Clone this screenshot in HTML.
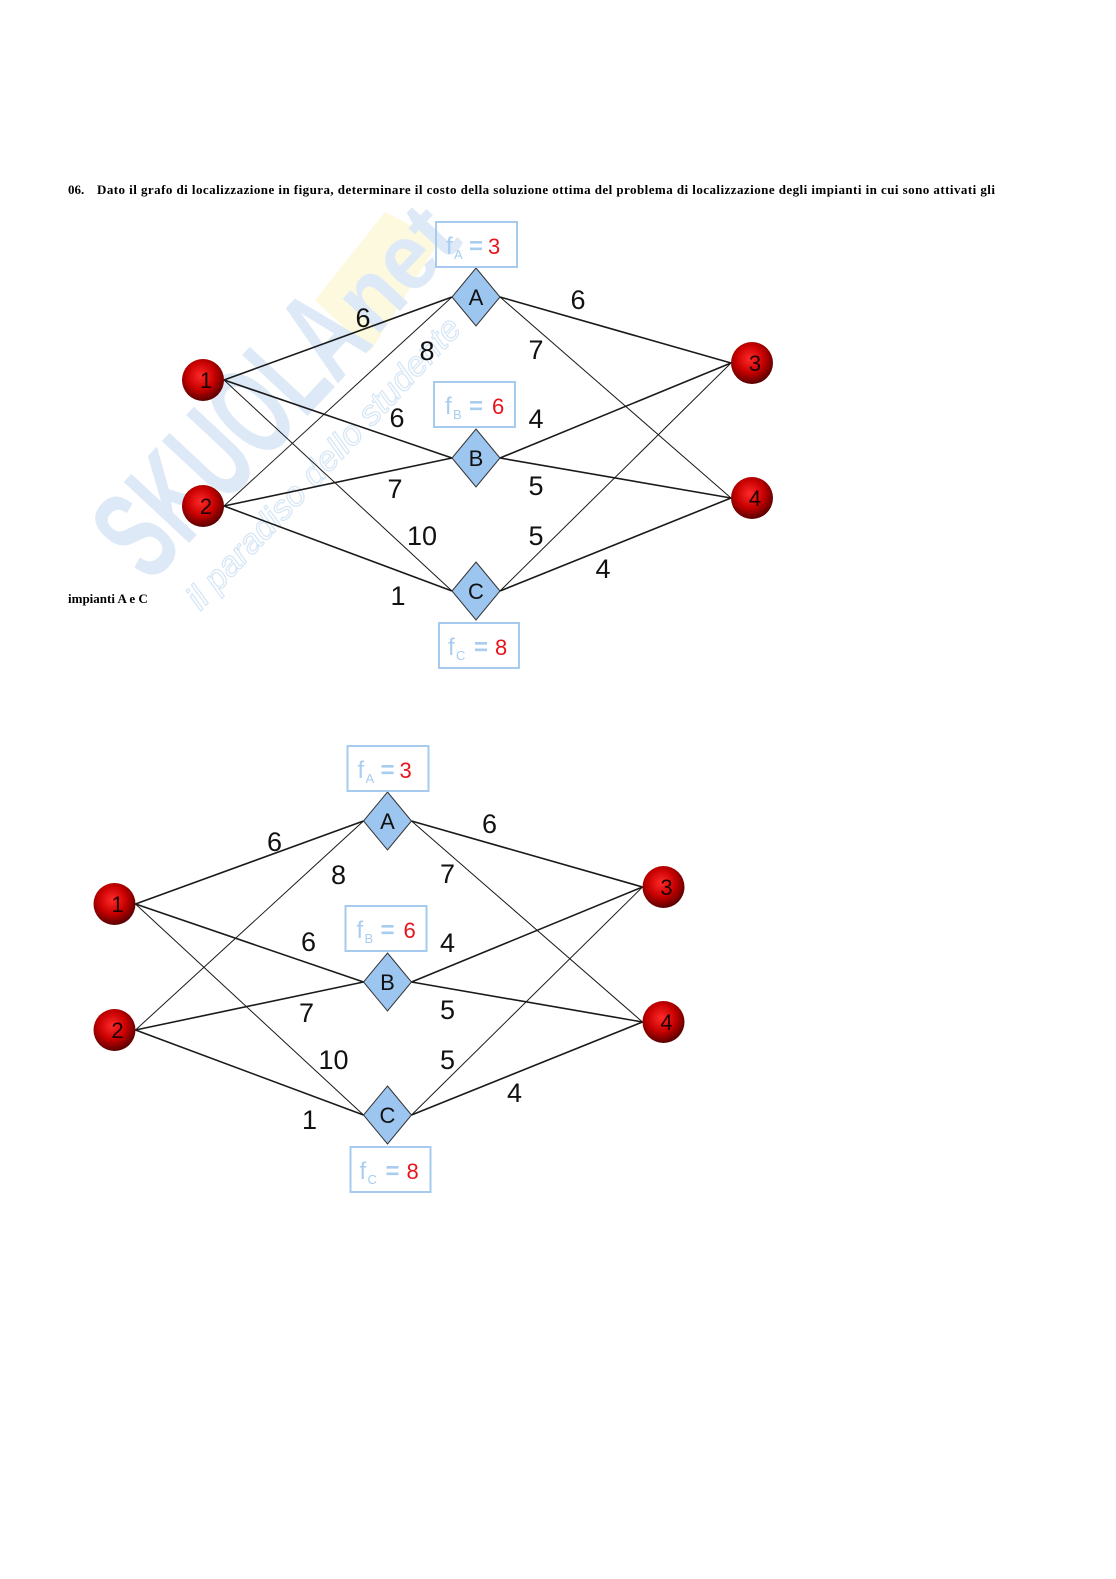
<!DOCTYPE html>
<html><head><meta charset="utf-8">
<style>
html,body{margin:0;padding:0;background:#fff;}
svg{display:block;}
.hd{font-family:"Liberation Serif",serif;font-weight:bold;font-size:13px;fill:#000;}
.lb{font-family:"Liberation Sans",sans-serif;font-size:27px;fill:#111;text-anchor:middle;}
.nd{font-family:"Liberation Sans",sans-serif;font-size:22px;fill:#111;text-anchor:middle;}
.nc{font-family:"Liberation Sans",sans-serif;font-size:22px;fill:#1e0000;text-anchor:middle;}
.fb{font-family:"Liberation Sans",sans-serif;fill:#a9cdf0;}
.fr{font-family:"Liberation Sans",sans-serif;fill:#e8141c;font-size:22px;}
.tk{stroke:#1a1a1a;stroke-width:1.6;fill:none;}
.tn{stroke:#1a1a1a;stroke-width:1;fill:none;}
.dm{fill:#9cc6f0;stroke:#333;stroke-width:1;}
.bx{fill:none;stroke:#a6cbee;stroke-width:2;}
</style></head>
<body>
<svg width="1116" height="1579" viewBox="0 0 1116 1579" xmlns="http://www.w3.org/2000/svg">
<defs>
<radialGradient id="ball" cx="45%" cy="40%" r="60%">
<stop offset="0" stop-color="#ff2a2a"/>
<stop offset="0.55" stop-color="#c80000"/>
<stop offset="1" stop-color="#5a0000"/>
</radialGradient>
</defs>

<!-- watermark -->
<polygon points="315,300 385,212 440,240 370,352" fill="#fcf9de"/>
<g transform="translate(150,585) rotate(-47)">
<text x="0" y="0" font-family="Liberation Sans,sans-serif" font-weight="bold" font-size="130" fill="#dde9f6" textLength="330" lengthAdjust="spacingAndGlyphs">SKUOLA</text>
<text x="335" y="-4" font-family="Liberation Sans,sans-serif" font-weight="bold" font-size="95" fill="#dde9f6" textLength="130" lengthAdjust="spacingAndGlyphs">net</text>
<text x="15" y="55" font-family="Liberation Sans,sans-serif" font-style="italic" font-size="34" fill="none" stroke="#d6e6f5" stroke-width="1.2" textLength="385" lengthAdjust="spacingAndGlyphs">il paradiso dello studente</text>
</g>

<!-- header -->
<text class="hd" x="68" y="194">06.</text>
<text class="hd" x="97" y="194" textLength="898" lengthAdjust="spacing">Dato il grafo di localizzazione in figura, determinare il costo della soluzione ottima del problema di localizzazione degli impianti in cui sono attivati gli</text>
<text class="hd" x="68" y="603">impianti A e C</text>

<!-- top graph -->
<g>
<path class="tk" d="M224,380 L452,297 M224,380 L452,458 M224,506 L452,458 M224,506 L452,591 M500,297 L731,363 M500,458 L731,363 M500,458 L731,498 M500,591 L731,498"/>
<path class="tn" d="M224,380 L452,591 M224,506 L452,297 M500,297 L731,498 M500,591 L731,363"/>
<circle cx="203" cy="380" r="21" fill="url(#ball)"/>
<circle cx="203" cy="506" r="21" fill="url(#ball)"/>
<circle cx="752" cy="363" r="21" fill="url(#ball)"/>
<circle cx="752" cy="498" r="21" fill="url(#ball)"/>
<text class="nc" x="206" y="388">1</text>
<text class="nc" x="206" y="514">2</text>
<text class="nc" x="755" y="371">3</text>
<text class="nc" x="755" y="506">4</text>
<path class="dm" d="M476,268 L500,297 L476,326 L452,297 Z"/>
<path class="dm" d="M476,429 L500,458 L476,487 L452,458 Z"/>
<path class="dm" d="M476,562 L500,591 L476,620 L452,591 Z"/>
<text class="nd" x="476" y="305">A</text>
<text class="nd" x="476" y="466">B</text>
<text class="nd" x="476" y="599">C</text>
<rect class="bx" x="436" y="222" width="81" height="45"/>
<rect class="bx" x="434" y="382" width="81" height="45"/>
<rect class="bx" x="439" y="623" width="80" height="45"/>
<text class="fb" x="446" y="254" font-size="24">f</text><text class="fb" x="454" y="259" font-size="13">A</text><text class="fb" x="469" y="254" font-size="24" font-weight="bold">=</text><text class="fr" x="488" y="254">3</text>
<text class="fb" x="445" y="414" font-size="24">f</text><text class="fb" x="453" y="419" font-size="13">B</text><text class="fb" x="469" y="414" font-size="24" font-weight="bold">=</text><text class="fr" x="492" y="414">6</text>
<text class="fb" x="448" y="655" font-size="24">f</text><text class="fb" x="456" y="660" font-size="13">C</text><text class="fb" x="474" y="655" font-size="24" font-weight="bold">=</text><text class="fr" x="495" y="655">8</text>
<text class="lb" x="363" y="327">6</text>
<text class="lb" x="427" y="360">8</text>
<text class="lb" x="397" y="427">6</text>
<text class="lb" x="395" y="498">7</text>
<text class="lb" x="422" y="545">10</text>
<text class="lb" x="398" y="605">1</text>
<text class="lb" x="578" y="309">6</text>
<text class="lb" x="536" y="359">7</text>
<text class="lb" x="536" y="428">4</text>
<text class="lb" x="536" y="495">5</text>
<text class="lb" x="536" y="545">5</text>
<text class="lb" x="603" y="578">4</text>
</g>

<!-- bottom graph -->
<g transform="translate(-88.5,524)">
<path class="tk" d="M224,380 L452,297 M224,380 L452,458 M224,506 L452,458 M224,506 L452,591 M500,297 L731,363 M500,458 L731,363 M500,458 L731,498 M500,591 L731,498"/>
<path class="tn" d="M224,380 L452,591 M224,506 L452,297 M500,297 L731,498 M500,591 L731,363"/>
<circle cx="203" cy="380" r="21" fill="url(#ball)"/>
<circle cx="203" cy="506" r="21" fill="url(#ball)"/>
<circle cx="752" cy="363" r="21" fill="url(#ball)"/>
<circle cx="752" cy="498" r="21" fill="url(#ball)"/>
<text class="nc" x="206" y="388">1</text>
<text class="nc" x="206" y="514">2</text>
<text class="nc" x="755" y="371">3</text>
<text class="nc" x="755" y="506">4</text>
<path class="dm" d="M476,268 L500,297 L476,326 L452,297 Z"/>
<path class="dm" d="M476,429 L500,458 L476,487 L452,458 Z"/>
<path class="dm" d="M476,562 L500,591 L476,620 L452,591 Z"/>
<text class="nd" x="476" y="305">A</text>
<text class="nd" x="476" y="466">B</text>
<text class="nd" x="476" y="599">C</text>
<rect class="bx" x="436" y="222" width="81" height="45"/>
<rect class="bx" x="434" y="382" width="81" height="45"/>
<rect class="bx" x="439" y="623" width="80" height="45"/>
<text class="fb" x="446" y="254" font-size="24">f</text><text class="fb" x="454" y="259" font-size="13">A</text><text class="fb" x="469" y="254" font-size="24" font-weight="bold">=</text><text class="fr" x="488" y="254">3</text>
<text class="fb" x="445" y="414" font-size="24">f</text><text class="fb" x="453" y="419" font-size="13">B</text><text class="fb" x="469" y="414" font-size="24" font-weight="bold">=</text><text class="fr" x="492" y="414">6</text>
<text class="fb" x="448" y="655" font-size="24">f</text><text class="fb" x="456" y="660" font-size="13">C</text><text class="fb" x="474" y="655" font-size="24" font-weight="bold">=</text><text class="fr" x="495" y="655">8</text>
<text class="lb" x="363" y="327">6</text>
<text class="lb" x="427" y="360">8</text>
<text class="lb" x="397" y="427">6</text>
<text class="lb" x="395" y="498">7</text>
<text class="lb" x="422" y="545">10</text>
<text class="lb" x="398" y="605">1</text>
<text class="lb" x="578" y="309">6</text>
<text class="lb" x="536" y="359">7</text>
<text class="lb" x="536" y="428">4</text>
<text class="lb" x="536" y="495">5</text>
<text class="lb" x="536" y="545">5</text>
<text class="lb" x="603" y="578">4</text>
</g>
</svg>
</body></html>
